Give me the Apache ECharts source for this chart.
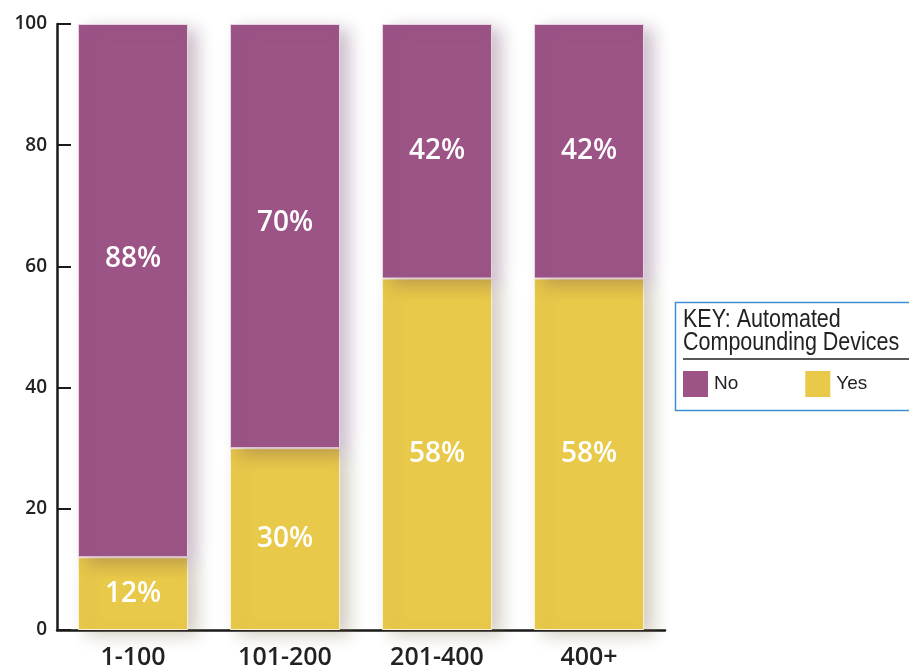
<!DOCTYPE html>
<html>
<head>
<meta charset="utf-8">
<script src="https://cdn.jsdelivr.net/npm/echarts@6/dist/echarts.min.js"></script>
<style>
  html, body { margin: 0; padding: 0; background: #fff; }
  #chart { width: 909px; height: 672px; }
</style>
</head>
<body>
<div id="chart"></div>
<script>
// categories: pharmacy size groups
const categories = ['1-100', '101-200', '201-400', '400+'];
// percent of pharmacies with / without automated compounding devices
const yesValues = [12, 30, 58, 58];
const noValues = [88, 70, 42, 42];
const yTicks = [0, 20, 40, 60, 80, 100];

// label nudges for tall segments (the original puts them above centre)
const noLabelOffset = [-32, -13, 0, 0];

const purple = '#9c5487';
const yellow = '#e8c94a';
const font = "'Open Sans', 'Noto Sans', sans-serif";
const narrow = "'Liberation Sans', Arial, sans-serif";

const chart = echarts.init(document.getElementById('chart'));

function barLabel() {
  return {
    show: true,
    position: 'inside',
    color: '#fff',
    fontFamily: font,
    fontWeight: 600,
    fontSize: 28,
    formatter: p => p.value + '%'
  };
}

const option = {
  animation: false,
  grid: { left: 57, top: 24, width: 608, height: 606 },
  legend: {
    data: ['No', 'Yes'],
    left: 683,
    top: 371,
    padding: 0,
    itemWidth: 25,
    itemHeight: 26,
    itemGap: 67,
    icon: 'rect',
    itemStyle: { borderWidth: 0, shadowBlur: 0 },
    textStyle: { fontFamily: narrow, fontSize: 19, color: '#222', padding: [0, 0, 0, 1] }
  },
  graphic: [
    {
      type: 'rect',
      shape: { x: 675.5, y: 302.5, width: 245, height: 108 },
      style: { fill: '#fff', stroke: '#3f8fd2', lineWidth: 1.5 },
      z: 0
    },
    {
      type: 'text',
      x: 683,
      y: 309,
      scaleX: 0.86,
      style: {
        text: 'KEY: Automated\nCompounding Devices',
        fontFamily: narrow,
        fontSize: 25,
        lineHeight: 23,
        fill: '#222'
      },
      z: 1
    },
    {
      type: 'line',
      shape: { x1: 683, y1: 359, x2: 909, y2: 359 },
      style: { stroke: '#222', lineWidth: 1.5 },
      z: 1
    }
  ],
  xAxis: {
    type: 'category',
    data: categories,
    axisLine: { lineStyle: { color: '#1a1a1a', width: 2.5 } },
    axisTick: { show: false },
    axisLabel: {
      color: '#222',
      fontFamily: font,
      fontWeight: 600,
      fontSize: 25,
      margin: 15
    }
  },
  yAxis: {
    type: 'value',
    min: 0,
    max: 100,
    interval: 20,
    axisLine: { show: true, lineStyle: { color: '#1a1a1a', width: 2.5 } },
    axisTick: { show: true, inside: true, length: 14, lineStyle: { color: '#1a1a1a', width: 2 } },
    splitLine: { show: false },
    axisLabel: {
      color: '#222',
      fontFamily: font,
      fontWeight: 600,
      fontSize: 19,
      margin: 10,
      formatter: v => (yTicks.indexOf(v) >= 0 ? String(v) : '')
    }
  },
  series: [
    {
      name: 'Yes',
      type: 'bar',
      stack: 'total',
      barWidth: 110,
      data: yesValues,
      itemStyle: {
        color: yellow,
        borderColor: '#f7f0d8',
        borderWidth: 1,
        shadowColor: 'rgba(120, 100, 60, 0.3)',
        shadowBlur: 16,
        shadowOffsetX: 9,
        shadowOffsetY: 5
      },
      label: barLabel(),
      z: 2
    },
    {
      name: 'No',
      type: 'bar',
      stack: 'total',
      barWidth: 110,
      data: noValues.map((v, i) => ({ value: v, label: { offset: [0, noLabelOffset[i]] } })),
      itemStyle: {
        color: purple,
        borderColor: '#e8d4e2',
        borderWidth: 1,
        shadowColor: 'rgba(90, 50, 90, 0.3)',
        shadowBlur: 16,
        shadowOffsetX: 9,
        shadowOffsetY: 5
      },
      label: barLabel(),
      z: 2
    }
  ],
  color: [yellow, purple]
};

chart.setOption(option);
</script>
</body>
</html>
